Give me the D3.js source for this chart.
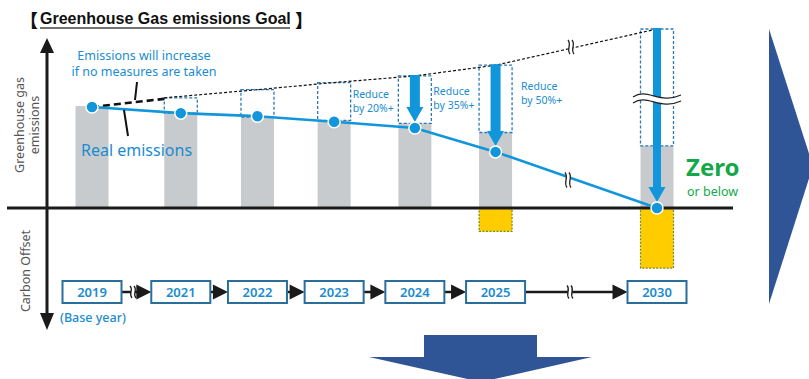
<!DOCTYPE html>
<html>
<head>
<meta charset="utf-8">
<script src="https://cdn.jsdelivr.net/npm/d3@7/dist/d3.min.js"></script>
<style>
  body { margin: 0; background: #fff; }
  svg { display: block; font-family: "Noto Sans", "Open Sans", sans-serif; }
</style>
</head>
<body>
<svg id="chart" width="809" height="379"></svg>
<script>
// ---- data ----
const years = ["2019", "2021", "2022", "2023", "2024", "2025", "2030"];
// ordinal position on the timeline (2020 and 2026-2029 are skipped)
const yearSlot = [0, 1.1, 2.05, 3, 4, 5, 7];
const grossEmissions = [100, 93, 89, 86, 83, 74, 61];      // grey bars
const realEmissions = [99, 93, 90, 84.5, 78.5, 55, 0];     // blue line
const carbonOffset = [0, 0, 0, 0, 0, 23, 59];              // yellow, below zero
const noMeasures = [99, 108, 116, 123, 129.5, 140, 175.5];  // dashed projection
const reduceTargets = [null, null, null, null, "20%", "35%", "50%"];

const svg = d3.select("#chart");
const blue = "#1296db", textBlue = "#1a8ccf", navy = "#2f5597";

const x = d3.scaleLinear().domain([0, 7]).range([92, 657]);
const y = d3.scaleLinear().domain([0, 100]).range([208, 106]);
const barW = 33;

const rows = years.map((yr, i) => ({
  yr, slot: yearSlot[i], gross: grossEmissions[i], real: realEmissions[i],
  offset: carbonOffset[i], proj: noMeasures[i], target: reduceTargets[i], i
}));

// big navy arrows
svg.append("path").attr("fill", navy)
  .attr("d", "M769,29 L813,166 L769,304 Z");
svg.append("path").attr("fill", navy)
  .attr("d", "M424,335 H537 V357 H592 L481,382 L369,357 H424 Z");

// title
const title = svg.append("g");
title.append("text").attr("x", 20).attr("y", 27)
  .attr("font-family", "'Noto Sans CJK JP', 'Noto Sans CJK SC'").attr("font-size", 18).attr("font-weight", 900)
  .attr("fill", "#111").text("【");
title.append("text").attr("x", 40).attr("y", 24)
  .attr("font-family", "'Liberation Sans', Arial, sans-serif")
  .attr("font-size", 16).attr("font-weight", 700).attr("fill", "#111")
  .text("Greenhouse Gas emissions Goal");
title.append("line").attr("x1", 40).attr("x2", 290).attr("y1", 28).attr("y2", 28)
  .attr("stroke", "#444").attr("stroke-width", 1.3);
title.append("text").attr("x", 295).attr("y", 27)
  .attr("font-family", "'Noto Sans CJK JP', 'Noto Sans CJK SC'").attr("font-size", 18).attr("font-weight", 900)
  .attr("fill", "#111").text("】");

// grey bars
svg.append("g").selectAll("rect").data(rows).join("rect")
  .attr("x", d => x(d.slot) - barW / 2)
  .attr("y", d => y(d.gross))
  .attr("width", barW)
  .attr("height", d => y(0) - y(d.gross))
  .attr("fill", "#c8cbcd");

// yellow carbon offset
svg.append("g").selectAll("rect").data(rows.filter(d => d.offset > 0)).join("rect")
  .attr("x", d => x(d.slot) - barW / 2)
  .attr("y", y(0))
  .attr("width", barW)
  .attr("height", d => y(-d.offset) - y(0))
  .attr("fill", "#ffcc00")
  .attr("stroke", "#6f8f2a").attr("stroke-width", 1.2).attr("stroke-dasharray", "2,1.5");

// dashed "no measures" boxes
svg.append("g").selectAll("rect").data(rows.slice(1)).join("rect")
  .attr("x", d => x(d.slot) - barW / 2)
  .attr("y", d => y(d.proj))
  .attr("width", barW)
  .attr("height", d => y(d.gross) - y(d.proj))
  .attr("fill", "none")
  .attr("stroke", "#2b79b5").attr("stroke-width", 1.3).attr("stroke-dasharray", "3,2");

// projection line: thick dashes for the first step, thin afterwards
svg.append("path").datum(rows.slice(0, 2))
  .attr("d", d3.line().x(d => x(d.slot) - (d.i ? barW / 2 : 0)).y((d, k) => k ? y(d.proj) + 1 : y(d.real)))
  .attr("fill", "none").attr("stroke", "#111").attr("stroke-width", 2.6).attr("stroke-dasharray", "7,4");
svg.append("path").datum(rows.slice(1))
  .attr("d", d3.line().x((d, k) => k ? x(d.slot) : x(d.slot) - barW / 2).y(d => y(d.proj)))
  .attr("fill", "none").attr("stroke", "#111").attr("stroke-width", 1.2).attr("stroke-dasharray", "3,2");

// baseline
svg.append("line").attr("x1", 7).attr("x2", 733).attr("y1", y(0)).attr("y2", y(0))
  .attr("stroke", "#1a1a1a").attr("stroke-width", 3);

// real emissions line
svg.append("path").datum(rows)
  .attr("d", d3.line().x(d => x(d.slot)).y(d => y(d.real)))
  .attr("fill", "none").attr("stroke", blue).attr("stroke-width", 2.6);

// reduction arrows
rows.filter(d => d.target).forEach(d => {
  const cx = x(d.slot), top = y(d.proj) - 1, tip = y(d.real) - 6;
  const sw = d.yr === "2030" ? 4 : 5, hw = 8.5, hl = 15;
  svg.append("path").attr("fill", blue)
    .attr("d", `M${cx - sw},${top} H${cx + sw} V${tip - hl} H${cx + hw} L${cx},${tip} L${cx - hw},${tip - hl} H${cx - sw} Z`);
});

// reduction labels, placed right of the previous column
rows.filter(d => d.target).forEach(d => {
  const prev = rows[d.i - 1];
  const lx = x(prev.slot) + barW / 2 + 2 + (d.yr === "2030" ? 7 : 0);
  const ly = y(prev.proj) * 0.5 + 57;
  const t = svg.append("text").attr("fill", textBlue).attr("font-size", 10.5);
  t.append("tspan").attr("x", lx).attr("y", ly).text("Reduce");
  t.append("tspan").attr("x", lx).attr("y", ly + 14).text(`by ${d.target}+`);
});

// break marks
function breakMark(cx, cy, h) {
  const g = svg.append("g");
  g.append("rect").attr("x", cx - 2).attr("y", cy - h / 2).attr("width", 4).attr("height", h).attr("fill", "#fff");
  [-2, 2].forEach(dx => {
    const x0 = cx + dx;
    g.append("path")
      .attr("d", `M${x0 - 1},${cy - h / 2} C${x0 + 3},${cy - h / 6} ${x0 - 3},${cy + h / 6} ${x0 + 1},${cy + h / 2}`)
      .attr("fill", "none").attr("stroke", "#222").attr("stroke-width", 1.3);
  });
}
breakMark(571, 47, 14);
breakMark(568, 180, 15);

// horizontal break on the 2030 column
(function () {
  const cx = x(7), w = 48, cy = 100, x0 = cx - w / 2, x1 = cx + w / 2;
  const wave = dy =>
    `M${x0},${cy + dy} C${x0 + w * 0.3},${cy + dy - 10} ${x0 + w * 0.55},${cy + dy + 8} ${x1},${cy + dy - 2}`;
  svg.append("path")
    .attr("d", `M${x0},${cy - 3} C${x0 + w * 0.3},${cy - 13} ${x0 + w * 0.55},${cy + 5} ${x1},${cy - 5}
                L${x1},${cy + 1} C${x0 + w * 0.55},${cy + 11} ${x0 + w * 0.3},${cy - 7} ${x0},${cy + 3} Z`)
    .attr("fill", "#fff");
  [-3, 3].forEach(dy => svg.append("path").attr("d", wave(dy))
    .attr("fill", "none").attr("stroke", "#222").attr("stroke-width", 1.3));
})();

// points
svg.append("g").selectAll("circle").data(rows).join("circle")
  .attr("cx", d => x(d.slot)).attr("cy", d => y(d.real)).attr("r", 6)
  .attr("fill", blue).attr("stroke", "#fff").attr("stroke-width", 1.5);

// callouts
svg.append("line").attr("x1", 137).attr("y1", 82).attr("x2", 135).attr("y2", 100)
  .attr("stroke", "#111").attr("stroke-width", 2);
svg.append("line").attr("x1", 124).attr("y1", 110).attr("x2", 128).attr("y2", 136)
  .attr("stroke", "#111").attr("stroke-width", 2);
const inc = svg.append("text").attr("fill", textBlue).attr("font-size", 12.5).attr("text-anchor", "middle");
inc.append("tspan").attr("x", 144).attr("y", 60).text("Emissions will increase");
inc.append("tspan").attr("x", 144).attr("y", 76).text("if no measures are taken");
svg.append("text").attr("x", 81).attr("y", 156).attr("fill", textBlue).attr("font-size", 16)
  .text("Real emissions");

// Zero label
svg.append("text").attr("x", 686).attr("y", 176).attr("fill", "#14a84b")
  .attr("font-size", 24).attr("font-weight", 700).text("Zero");
svg.append("text").attr("x", 687).attr("y", 196).attr("fill", "#14a84b")
  .attr("font-size", 12.5).text("or below");

// vertical axis with arrows
svg.append("line").attr("x1", 47).attr("x2", 47).attr("y1", 48).attr("y2", 316)
  .attr("stroke", "#1a1a1a").attr("stroke-width", 3);
svg.append("path").attr("fill", "#1a1a1a").attr("d", "M47,38 L54,53 L40,53 Z");
svg.append("path").attr("fill", "#1a1a1a").attr("d", "M47,330 L54,313 L40,313 Z");

const ylab = svg.append("text").attr("transform", "translate(0,125) rotate(-90)")
  .attr("text-anchor", "middle").attr("fill", "#555").attr("font-size", 12.5);
ylab.append("tspan").attr("x", 0).attr("y", 24).text("Greenhouse gas");
ylab.append("tspan").attr("x", 0).attr("y", 39).text("emissions");
svg.append("text").attr("transform", "translate(30,271) rotate(-90)")
  .attr("text-anchor", "middle").attr("fill", "#555").attr("font-size", 12.5).text("Carbon Offset");

// timeline
const boxW = 59, boxH = 22, boxY = 281;
const tl = svg.append("g");
rows.slice(1).forEach((d, k) => {
  const p = rows[k];
  const x0 = x(p.slot) + boxW / 2, x1 = x(d.slot) - boxW / 2;
  tl.append("line").attr("x1", x0).attr("x2", x1 - 12).attr("y1", boxY + boxH / 2).attr("y2", boxY + boxH / 2)
    .attr("stroke", "#1a1a1a").attr("stroke-width", 2.5);
  tl.append("path").attr("fill", "#1a1a1a")
    .attr("d", `M${x1},${boxY + boxH / 2} L${x1 - 15},${boxY + boxH / 2 - 7.5} L${x1 - 15},${boxY + boxH / 2 + 7.5} Z`);
});
breakMark(133, boxY + boxH / 2, 12);
breakMark(570, boxY + boxH / 2, 13);
tl.selectAll("rect").data(rows).join("rect")
  .attr("x", d => x(d.slot) - boxW / 2).attr("y", boxY)
  .attr("width", boxW).attr("height", boxH)
  .attr("fill", "#fff").attr("stroke", "#2a6f9c").attr("stroke-width", 2);
tl.selectAll("text.yr").data(rows).join("text").attr("class", "yr")
  .attr("x", d => x(d.slot)).attr("y", boxY + 16)
  .attr("text-anchor", "middle").attr("fill", textBlue)
  .attr("font-size", 13).attr("font-weight", 600).text(d => d.yr);
svg.append("text").attr("x", 60).attr("y", 322).attr("fill", textBlue)
  .attr("font-size", 12.5).attr("font-weight", 500).text("(Base year)");
</script>
</body>
</html>
